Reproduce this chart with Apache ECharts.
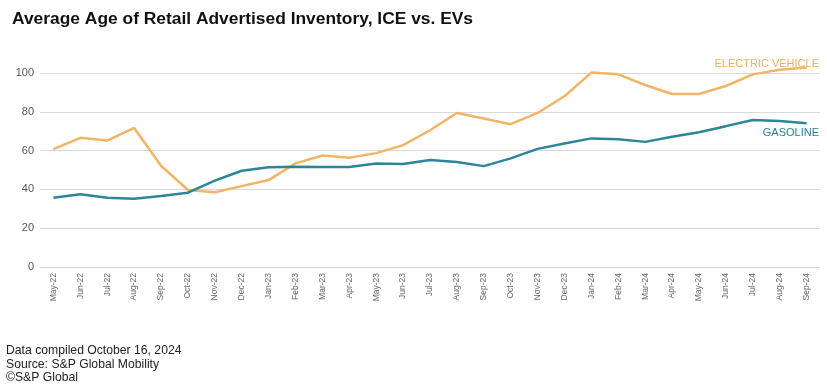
<!DOCTYPE html>
<html>
<head>
<meta charset="utf-8">
<script src="https://cdn.jsdelivr.net/npm/echarts@6/dist/echarts.min.js"></script>
<style>
html,body{margin:0;padding:0;background:#fff;}
#chart{width:827px;height:388px;}
</style>
</head>
<body>
<div id="chart"></div>
<script>
var categories = ["May-22","Jun-22","Jul-22","Aug-22","Sep-22","Oct-22","Nov-22","Dec-22","Jan-23","Feb-23","Mar-23","Apr-23","May-23","Jun-23","Jul-23","Aug-23","Sep-23","Oct-23","Nov-23","Dec-23","Jan-24","Feb-24","Mar-24","Apr-24","May-24","Jun-24","Jul-24","Aug-24","Sep-24"];
var gasoline = [35.7,37.5,35.7,35.2,36.6,38.3,44.5,49.6,51.4,51.7,51.6,51.6,53.4,53.1,55.1,54.1,52.0,56.0,60.9,63.7,66.3,65.8,64.5,67.1,69.5,72.6,75.8,75.3,74.1];
var electric = [60.8,66.6,65.2,71.7,52.2,39.7,38.5,41.7,44.8,53.4,57.5,56.3,58.7,62.8,70.5,79.4,76.5,73.6,79.4,88.0,100.2,99.3,93.8,89.2,89.2,93.3,99.3,101.7,102.8];
var yTicks = [0,20,40,60,80,100];
var titleText = "Average Age of Retail Advertised Inventory, ICE vs. EVs";
var footerLines = ["Data compiled October 16, 2024","Source: S&P Global Mobility","\u00a9S&P Global"];
var seriesNames = ["ELECTRIC VEHICLE","GASOLINE"];

var chart = echarts.init(document.getElementById('chart'), null, {renderer:'canvas'});
var font = 'Liberation Sans, Arial, sans-serif';
var orange = '#F2B466', blue = '#2C8598';
chart.setOption({
  backgroundColor:'#fff',
  animation:false,
  textStyle:{fontFamily:font},
  title:{
    text:titleText, left:7, top:6,
    textStyle:{fontFamily:font,fontSize:17.4,fontWeight:'bold',color:'#111'}
  },
  grid:{left:40,right:7,top:73,bottom:121,containLabel:false},
  xAxis:{
    type:'category', data:categories, boundaryGap:true,
    axisLine:{show:true,lineStyle:{color:'#d9d9d9',width:1}},
    axisTick:{show:false},
    axisLabel:{rotate:90,interval:0,fontSize:8.5,color:'#666',margin:6,fontFamily:font}
  },
  yAxis:{
    type:'value', min:yTicks[0], max:yTicks[yTicks.length-1], interval:20,
    axisLine:{show:false}, axisTick:{show:false},
    axisLabel:{fontSize:11,color:'#555',margin:6,fontFamily:font},
    splitLine:{lineStyle:{color:'#d9d9d9',width:1}}
  },
  series:[
    {name:seriesNames[0],type:'line',data:electric,symbol:'none',smooth:false,clip:false,
     lineStyle:{color:orange,width:2.5},itemStyle:{color:orange}},
    {name:seriesNames[1],type:'line',data:gasoline,symbol:'none',smooth:false,clip:false,
     lineStyle:{color:blue,width:2.5},itemStyle:{color:blue}}
  ],
  graphic:[
    {type:'text',right:8,top:58,z:10,style:{text:seriesNames[0],fill:'#EFB062',font:'11px '+font}},
    {type:'text',right:8,top:127,style:{text:seriesNames[1],fill:'#2A7E93',font:'11px '+font}},
    {type:'text',left:6,top:344,style:{text:footerLines.join('\n'),fill:'#222',font:'12.2px '+font,lineHeight:13.5}}
  ]
});
</script>
</body>
</html>
